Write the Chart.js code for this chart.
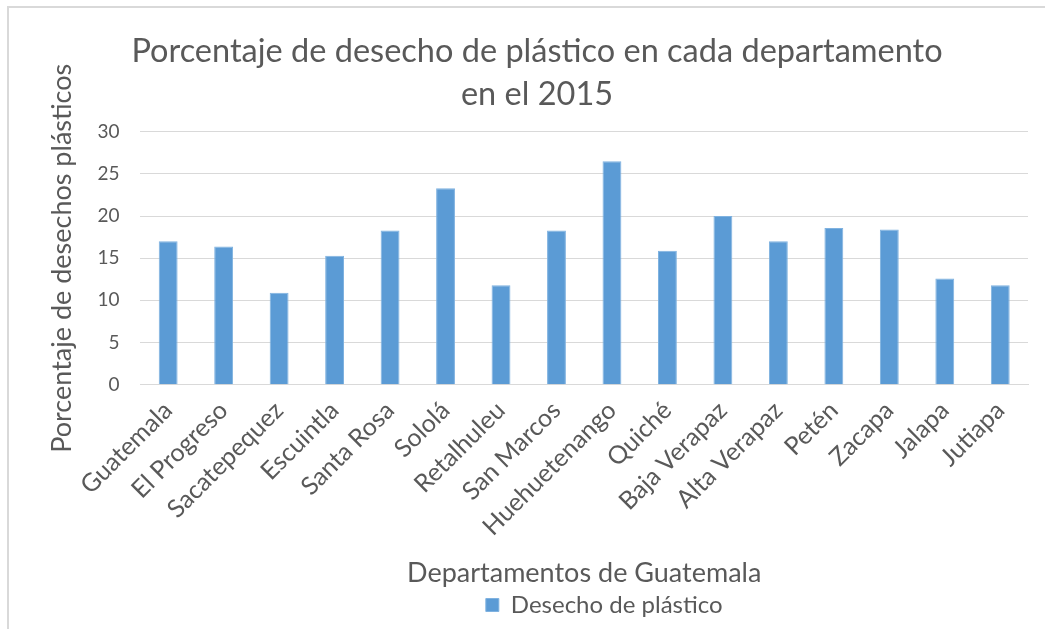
<!DOCTYPE html>
<html lang="es">
<head>
<meta charset="utf-8">
<title>Desecho de plástico por departamento</title>
<script src="https://cdn.jsdelivr.net/npm/chart.js@4.4.1/dist/chart.umd.min.js"></script>
<style>
  html, body { margin: 0; padding: 0; background: #fff; overflow: hidden; }
  #wrap { position: relative; width: 1045px; height: 629px; }
  #frame {
    position: absolute; left: 7px; top: 6px; right: -10px; bottom: -10px;
    border: 2px solid #d9d9d9;
  }
  canvas { position: absolute; left: 0; top: 0; }
</style>
</head>
<body>
<div id="wrap">
  <div id="frame"></div>
  <canvas id="plasticChart" width="1045" height="629"></canvas>
</div>
<script>
'use strict';
// ---------------------- Data -----------------
const departamentos = [
  'Guatemala', 'El Progreso', 'Sacatepequez', 'Escuintla', 'Santa Rosa',
  'Sololá', 'Retalhuleu', 'San Marcos', 'Huehuetenango', 'Quiché',
  'Baja Verapaz', 'Alta Verapaz', 'Petén', 'Zacapa', 'Jalapa', 'Jutiapa'
];
const desechoPlastico = [
  17.0, 16.4, 10.9, 15.3, 18.3, 23.3, 11.8, 18.3,
  26.5, 15.9, 20.0, 17.0, 18.6, 18.4, 12.6, 11.8
];
const yTicks = [0, 5, 10, 15, 20, 25, 30];

const chartTitle = ['Porcentaje de desecho de plástico en cada departamento', 'en el 2015'];
const seriesName = 'Desecho de plástico';
const xTitle = 'Departamentos de Guatemala';
const yTitle = 'Porcentaje de desechos plásticos';

// ---------------------- Styles -----------------
const textColor = '#595959';
const gridColor = '#d9d9d9';
const barColor = '#5b9bd5';
const fontFamily = 'Lato, "Open Sans", sans-serif';

Chart.defaults.font.family = fontFamily;
Chart.defaults.color = textColor;

// nudge the legend a little right of the plot centre
const legendShift = {
  id: 'legendShift',
  afterLayout(chart) {
    const legend = chart.legend;
    if (legend) {
      legend.left += 20;
      legend.right += 20;
    }
  }
};

// ---------------------- Chart -----------------
const context = document.getElementById('plasticChart').getContext('2d');
const plasticChart = new Chart(context, {
  type: 'bar',
  data: {
    labels: departamentos,
    datasets: [{
      label: seriesName,
      data: desechoPlastico,
      backgroundColor: barColor,
      borderColor: '#7fb2e0',
      borderWidth: 1,
      barPercentage: 0.34,
      categoryPercentage: 1
    }]
  },
  options: {
    responsive: false,
    animation: false,
    layout: {
      padding: { left: 46, right: 17, top: 30, bottom: 2 }
    },
    plugins: {
      title: {
        display: true,
        text: chartTitle,
        color: textColor,
        font: { size: 32.5, weight: 'normal', lineHeight: 1.32 },
        padding: { top: 0, bottom: 16 }
      },
      legend: {
        display: true,
        position: 'bottom',
        fullSize: false,
        labels: {
          boxWidth: 13,
          boxHeight: 13,
          color: textColor,
          font: { size: 24 },
          padding: 4
        }
      },
      tooltip: { enabled: false }
    },
    scales: {
      x: {
        grid: { display: false, drawTicks: false },
        border: { color: gridColor, width: 1 },
        ticks: {
          color: textColor,
          font: { size: 25 },
          maxRotation: 45,
          minRotation: 45,
          autoSkip: false,
          padding: 11
        },
        title: {
          display: true,
          text: xTitle,
          color: textColor,
          font: { size: 27 },
          padding: { top: 4, bottom: 0 }
        }
      },
      y: {
        min: 0,
        max: 30,
        afterBuildTicks: function (axis) {
          axis.ticks = yTicks.map(v => ({ value: v }));
        },
        grid: { color: gridColor, lineWidth: 1, drawTicks: false },
        border: { display: false },
        ticks: {
          color: textColor,
          font: { size: 19 },
          padding: 21
        },
        title: {
          display: true,
          text: yTitle,
          color: textColor,
          font: { size: 27 },
          padding: { top: 0, bottom: -2 }
        }
      }
    }
  },
  plugins: [legendShift]
});
</script>
</body>
</html>
